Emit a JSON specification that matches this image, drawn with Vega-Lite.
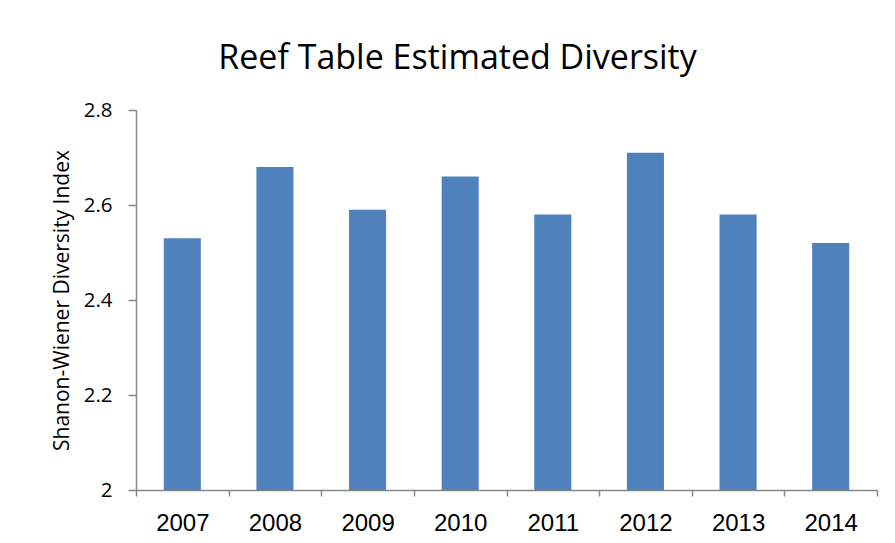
{
  "$schema": "https://vega.github.io/schema/vega-lite/v6.json",
  "width": 741,
  "height": 380,
  "autosize": {"type": "none"},
  "padding": {"left": 136, "top": 110, "right": 18, "bottom": 53},
  "background": "white",
  "title": {
    "text": "Reef Table Estimated Diversity",
    "font": "Open Sans",
    "fontSize": 34,
    "fontWeight": "normal",
    "color": "#000000",
    "anchor": "middle",
    "dx": -49,
    "offset": 24
  },
  "data": {
    "values": [
      {"year": "2007", "index": 2.53},
      {"year": "2008", "index": 2.68},
      {"year": "2009", "index": 2.59},
      {"year": "2010", "index": 2.66},
      {"year": "2011", "index": 2.58},
      {"year": "2012", "index": 2.71},
      {"year": "2013", "index": 2.58},
      {"year": "2014", "index": 2.52}
    ]
  },
  "mark": {"type": "bar", "color": "#4f81bd", "width": {"band": 0.4}},
  "encoding": {
    "x": {
      "field": "year",
      "type": "nominal",
      "title": null,
      "scale": {"paddingInner": 0, "paddingOuter": 0},
      "axis": {
        "labelAngle": 0,
        "tickBand": "extent",
        "labelFont": "Liberation Sans",
        "labelFontSize": 24,
        "labelColor": "#000000",
        "labelPadding": 15,
        "domainColor": "#868686",
        "domainWidth": 1.5,
        "tickColor": "#868686",
        "tickWidth": 1.5,
        "tickSize": 6
      }
    },
    "y": {
      "field": "index",
      "type": "quantitative",
      "title": "Shanon-Wiener Diversity Index",
      "scale": {"domain": [2, 2.8], "zero": false, "nice": false},
      "axis": {
        "values": [2, 2.2, 2.4, 2.6, 2.8],
        "format": "~g",
        "grid": false,
        "labelFont": "Open Sans",
        "labelFontSize": 20.5,
        "labelColor": "#000000",
        "labelPadding": 16,
        "tickColor": "#868686",
        "tickWidth": 1.5,
        "tickSize": 8,
        "domainColor": "#868686",
        "domainWidth": 1.5,
        "titleFont": "Open Sans",
        "titleFontSize": 21,
        "titleFontWeight": "normal",
        "titleColor": "#000000",
        "titlePadding": 11
      }
    },
    "y2": {"datum": 2}
  },
  "config": {"view": {"stroke": null}}
}
